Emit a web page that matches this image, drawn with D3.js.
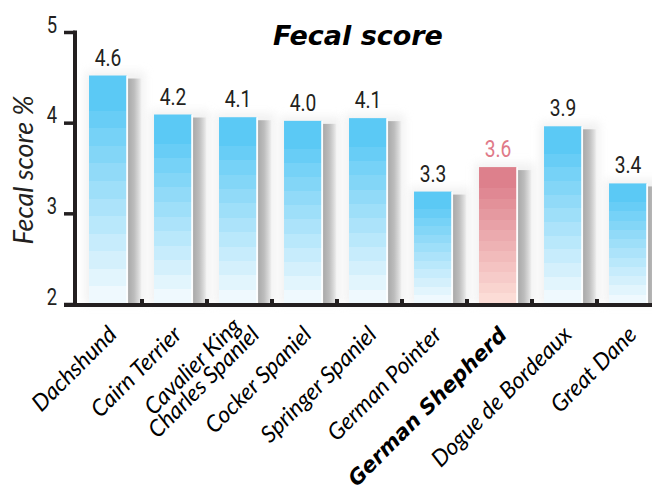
<!DOCTYPE html>
<html>
<head>
<meta charset="utf-8">
<script src="https://cdn.jsdelivr.net/npm/d3@7"></script>
<style>
  html, body { margin: 0; padding: 0; background: #fff; }
  svg { display: block; }
  .num { font-family: Roboto, "DejaVu Sans", sans-serif; }
  .lbl { font-family: Lato, "Open Sans", sans-serif; font-style: italic; }
</style>
</head>
<body>
<svg id="chart" width="652" height="500"></svg>
<script>
const breeds = ["Dachshund", "Cairn Terrier", "Cavalier King Charles Spaniel", "Cocker Spaniel",
  "Springer Spaniel", "German Pointer", "German Shepherd", "Dogue de Bordeaux", "Great Dane"];
const scores = [4.52, 4.09, 4.06, 4.02, 4.05, 3.24, 3.51, 3.96, 3.33];
const scoreLabels = ["4.6", "4.2", "4.1", "4.0", "4.1", "3.3", "3.6", "3.9", "3.4"];
const yTicks = [2, 3, 4, 5];
const highlight = "German Shepherd";
const breedLines = {
  "Cavalier King Charles Spaniel": ["Cavalier King", "Charles Spaniel"]
};

const svg = d3.select("#chart");
const ink = "#231f20";

const x = d3.scaleBand().domain(breeds).range([77, 662]);
const y = d3.scaleLinear().domain([2, 5]).range([304, 32]);

const bw = x.bandwidth();
const barOff = bw * 0.185, barW = bw * 0.585, shadowW = bw * 0.21;
const barMid = d => x(d) + barOff + barW / 2;

const data = breeds.map((b, i) => ({ breed: b, score: scores[i], label: scoreLabels[i] }));

// gradients
const defs = svg.append("defs");
function steppedGradient(id, top, bottom) {
  const grad = defs.append("linearGradient").attr("id", id)
    .attr("x1", 0).attr("y1", 0).attr("x2", 0).attr("y2", 1);
  const n = 12, total = 13;
  const col = d3.interpolateRgb(top, bottom);
  for (let i = 0; i < n; i++) {
    const a = i === 0 ? 0 : (i + 1) / total;
    const b = (i + 2) / total;
    grad.append("stop").attr("offset", a).attr("stop-color", col(i / (n - 1)));
    grad.append("stop").attr("offset", b).attr("stop-color", col(i / (n - 1)));
  }
}
steppedGradient("blueGrad", "#5bc9f5", "#eff9fe");
steppedGradient("redGrad", "#dd808c", "#fcdcd6");

const sg = defs.append("linearGradient").attr("id", "shadowGrad")
  .attr("x1", 0).attr("y1", 0).attr("x2", 1).attr("y2", 0);
sg.append("stop").attr("offset", 0).attr("stop-color", "#a9a9a9");
sg.append("stop").attr("offset", 0.45).attr("stop-color", "#bdbdbd");
sg.append("stop").attr("offset", 0.8).attr("stop-color", "#dcdcdc");
sg.append("stop").attr("offset", 1).attr("stop-color", "#f4f4f4");

defs.append("filter").attr("id", "glow").attr("x", "-50%").attr("y", "-50%")
  .attr("width", "200%").attr("height", "200%")
  .append("feGaussianBlur").attr("stdDeviation", 4);
defs.append("filter").attr("id", "soft")
  .append("feGaussianBlur").attr("stdDeviation", 0.6);

function numText(sel, size) {
  sel.attr("class", "num").attr("font-size", size);
}

// title
svg.append("text")
  .attr("x", 358).attr("y", 45)
  .attr("text-anchor", "middle")
  .attr("font-family", "'DejaVu Sans', sans-serif")
  .attr("font-style", "italic")
  .attr("font-size", 27).attr("font-weight", "bold")
  .attr("fill", "#000")
  .text("Fecal score");

// y title
svg.append("text")
  .attr("class", "lbl")
  .attr("transform", "translate(33,170) rotate(-90)")
  .attr("text-anchor", "middle")
  .attr("font-size", 27)
  .attr("fill", ink)
  .text("Fecal score %");

const bars = svg.append("g");
const groups = bars.selectAll("g").data(data).join("g");

// halo
groups.append("rect")
  .attr("x", d => x(d.breed) + barOff - 4)
  .attr("y", d => y(d.score) - 4)
  .attr("width", barW + shadowW + 8)
  .attr("height", d => y(2) - y(d.score) + 4)
  .attr("fill", "#e6e6e6")
  .attr("opacity", 0.55)
  .attr("filter", "url(#glow)");

// shadow
groups.append("rect")
  .attr("x", d => x(d.breed) + barOff + barW + 1)
  .attr("y", d => y(d.score) + 3)
  .attr("width", shadowW)
  .attr("height", d => y(2) - y(d.score) - 3)
  .attr("fill", "url(#shadowGrad)")
  .attr("filter", "url(#soft)");

// bar
groups.append("rect")
  .attr("x", d => x(d.breed) + barOff)
  .attr("y", d => y(d.score))
  .attr("width", barW)
  .attr("height", d => y(2) - y(d.score))
  .attr("fill", d => d.breed === highlight ? "url(#redGrad)" : "url(#blueGrad)");

// white edge between bar and shadow
groups.append("rect")
  .attr("x", d => x(d.breed) + barOff + barW - 1)
  .attr("y", d => y(d.score))
  .attr("width", 2)
  .attr("height", d => y(2) - y(d.score))
  .attr("fill", "#fff")
  .attr("opacity", 0.8);

// value labels
groups.append("text")
  .call(numText, 24)
  .attr("transform", d => `translate(${barMid(d.breed)},${y(d.score) - 10}) scale(0.8,1)`)
  .attr("text-anchor", "middle")
  .attr("fill", d => d.breed === highlight ? "#e07a88" : ink)
  .text(d => d.label);

// y axis
const yAxis = svg.append("g")
  .attr("transform", "translate(75,0)")
  .call(d3.axisLeft(y).tickValues(yTicks).tickSize(11).tickSizeOuter(0));
yAxis.select(".domain").remove();
yAxis.selectAll(".tick line").attr("stroke", ink).attr("stroke-width", 3.5);
yAxis.selectAll(".tick text").remove();
yAxis.selectAll(".tick").append("text")
  .call(numText, 23)
  .attr("transform", "translate(-18,0) scale(0.8,1)")
  .attr("text-anchor", "end")
  .attr("fill", ink)
  .text(d => d);
svg.append("line")
  .attr("x1", 75).attr("x2", 75)
  .attr("y1", y(5) - 1.5).attr("y2", y(2) + 3)
  .attr("stroke", ink).attr("stroke-width", 4);

// x axis baseline
svg.append("line")
  .attr("x1", 64).attr("x2", 652)
  .attr("y1", y(2) + 1).attr("y2", y(2) + 1)
  .attr("stroke", ink).attr("stroke-width", 4);

// small ticks between bars
svg.append("g").selectAll("rect").data(breeds.slice(0, -1)).join("rect")
  .attr("x", d => x(d) + bw - 2)
  .attr("y", y(2) - 5)
  .attr("width", 4)
  .attr("height", 5)
  .attr("fill", ink);

// breed labels
const lab = svg.append("g").selectAll("text").data(breeds).join("text")
  .attr("transform", d => `translate(${barMid(d) + 10},336) rotate(-45)`)
  .attr("text-anchor", "end")
  .attr("font-family", d => d === highlight ? "'DejaVu Sans', sans-serif" : "Lato, 'Open Sans', sans-serif")
  .attr("font-style", "italic")
  .attr("font-size", d => d === highlight ? 21 : 23)
  .attr("font-weight", d => d === highlight ? "bold" : 400)
  .attr("fill", "#000");

lab.each(function (d) {
  const lines = breedLines[d] || [d];
  const t = d3.select(this);
  lines.forEach((ln, i) => {
    t.append("tspan")
      .attr("x", lines.length > 1 ? (i === 0 ? 2 : 9) : 0)
      .attr("dy", lines.length > 1 ? (i === 0 ? -10 : 19) : 0)
      .text(ln);
  });
});
</script>
</body>
</html>
